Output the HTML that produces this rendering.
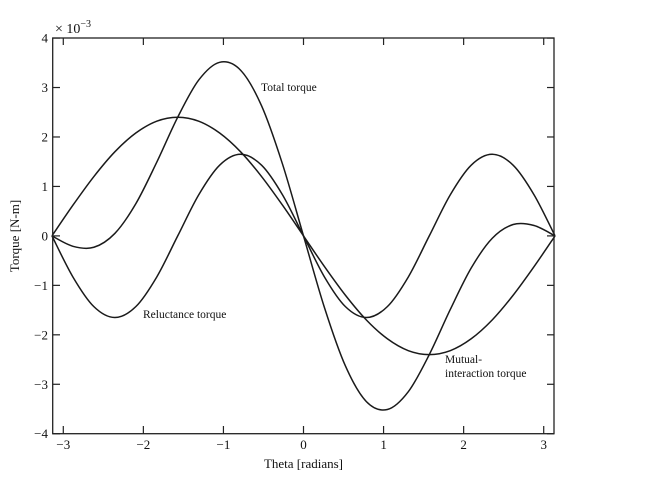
<!DOCTYPE html>
<html><head><meta charset="utf-8"><style>
body{margin:0;background:#fff}
svg text{font-family:"Liberation Serif",serif;fill:#111}
</style></head><body>
<svg width="648" height="484" viewBox="0 0 648 484">
<g id="axes"></g><g id="series"></g>
<rect x="52.7" y="38" width="501.3" height="395.7" fill="none" stroke="#222" stroke-width="1.3"/>
<text x="55" y="33" font-size="14">× 10<tspan dy="-6" font-size="10">−3</tspan></text>
<text x="303.5" y="468" font-size="13" text-anchor="middle">Theta [radians]</text>
<text transform="translate(19,236) rotate(-90)" font-size="13" text-anchor="middle">Torque [N-m]</text>
<text x="261" y="91" font-size="11.5">Total torque</text>
<text x="143" y="318" font-size="11.5">Reluctance torque</text>
<text x="445" y="363" font-size="11.5">Mutual-</text>
<text x="445" y="377" font-size="11.5">interaction torque</text>
</svg>
<script>
const xTicks=[-3,-2,-1,0,1,2,3];
const xTickLabels=["−3","−2","−1","0","1","2","3"];
const yTicks=[-4,-3,-2,-1,0,1,2,3,4];
const yTickLabels=["−4","−3","−2","−1","0","1","2","3","4"];
const thetaSteps=[-12,-11,-10,-9,-8,-7,-6,-5,-4,-3,-2,-1,0,1,2,3,4,5,6,7,8,9,10,11,12];
const mutual=[0,.62,1.2,1.70,2.08,2.32,2.4,2.32,2.08,1.70,1.2,.62,0,-.62,-1.2,-1.70,-2.08,-2.32,-2.4,-2.32,-2.08,-1.70,-1.2,-.62,0];
const reluctance=[0,-.83,-1.43,-1.65,-1.43,-.83,0,.83,1.43,1.65,1.43,.83,0,-.83,-1.43,-1.65,-1.43,-.83,0,.83,1.43,1.65,1.43,.83,0];
const total=[0,-.21,-.23,.05,.65,1.49,2.4,3.15,3.51,3.35,2.63,1.45,0,-1.45,-2.63,-3.35,-3.51,-3.15,-2.4,-1.49,-.65,-.05,.23,.21,0];
const NS='http://www.w3.org/2000/svg';
const X=v=>303.5+v*80.07, Y=v=>235.9-v*49.46;
const ax=document.getElementById('axes'), sg=document.getElementById('series');
function mk(tag,attrs){const e=document.createElementNS(NS,tag);for(const k in attrs)e.setAttribute(k,attrs[k]);return e;}
xTicks.forEach((t,i)=>{
  const a=mk('line',{x1:X(t),x2:X(t),y1:433.7,y2:426,stroke:'#222','stroke-width':1.2});
  
  
  ax.appendChild(a);
  const b=mk('line',{x1:X(t),x2:X(t),y1:38,y2:45,stroke:'#222','stroke-width':1.2});
  
  
  ax.appendChild(b);
  const l=mk('text',{x:X(t),y:449,'font-size':13,'text-anchor':'middle'});
  l.textContent=xTickLabels[i];
  
  
  ax.appendChild(l);
});
yTicks.forEach((t,i)=>{
  const a=mk('line',{x1:52.7,x2:60,y1:Y(t),y2:Y(t),stroke:'#222','stroke-width':1.2});
  
  
  ax.appendChild(a);
  const b=mk('line',{x1:547,x2:554,y1:Y(t),y2:Y(t),stroke:'#222','stroke-width':1.2});
  
  
  ax.appendChild(b);
  const l=mk('text',{x:48,y:Y(t)+4.5,'font-size':13,'text-anchor':'end'});
  l.textContent=yTickLabels[i];
  
  
  ax.appendChild(l);
});
function path(vals){
  const p=thetaSteps.map((s,i)=>[X(s*Math.PI/12),Y(vals[i])]);
  let d='M'+p[0][0]+','+p[0][1];
  for(let i=0;i<p.length-1;i++){
    const p0=p[Math.max(0,i-1)],p1=p[i],p2=p[i+1],p3=p[Math.min(p.length-1,i+2)];
    d+=' C'+(p1[0]+(p2[0]-p0[0])/6)+','+(p1[1]+(p2[1]-p0[1])/6)+' '+(p2[0]-(p3[0]-p1[0])/6)+','+(p2[1]-(p3[1]-p1[1])/6)+' '+p2[0]+','+p2[1];
  }
  return d;
}
[[total,'total-torque-line'],[reluctance,'reluctance-torque-line'],[mutual,'mutual-torque-line']].forEach(([v,n])=>{
  const e=mk('path',{d:path(v),fill:'none',stroke:'#1a1a1a','stroke-width':1.5});
  
  
  sg.appendChild(e);
});
</script>
</body></html>
